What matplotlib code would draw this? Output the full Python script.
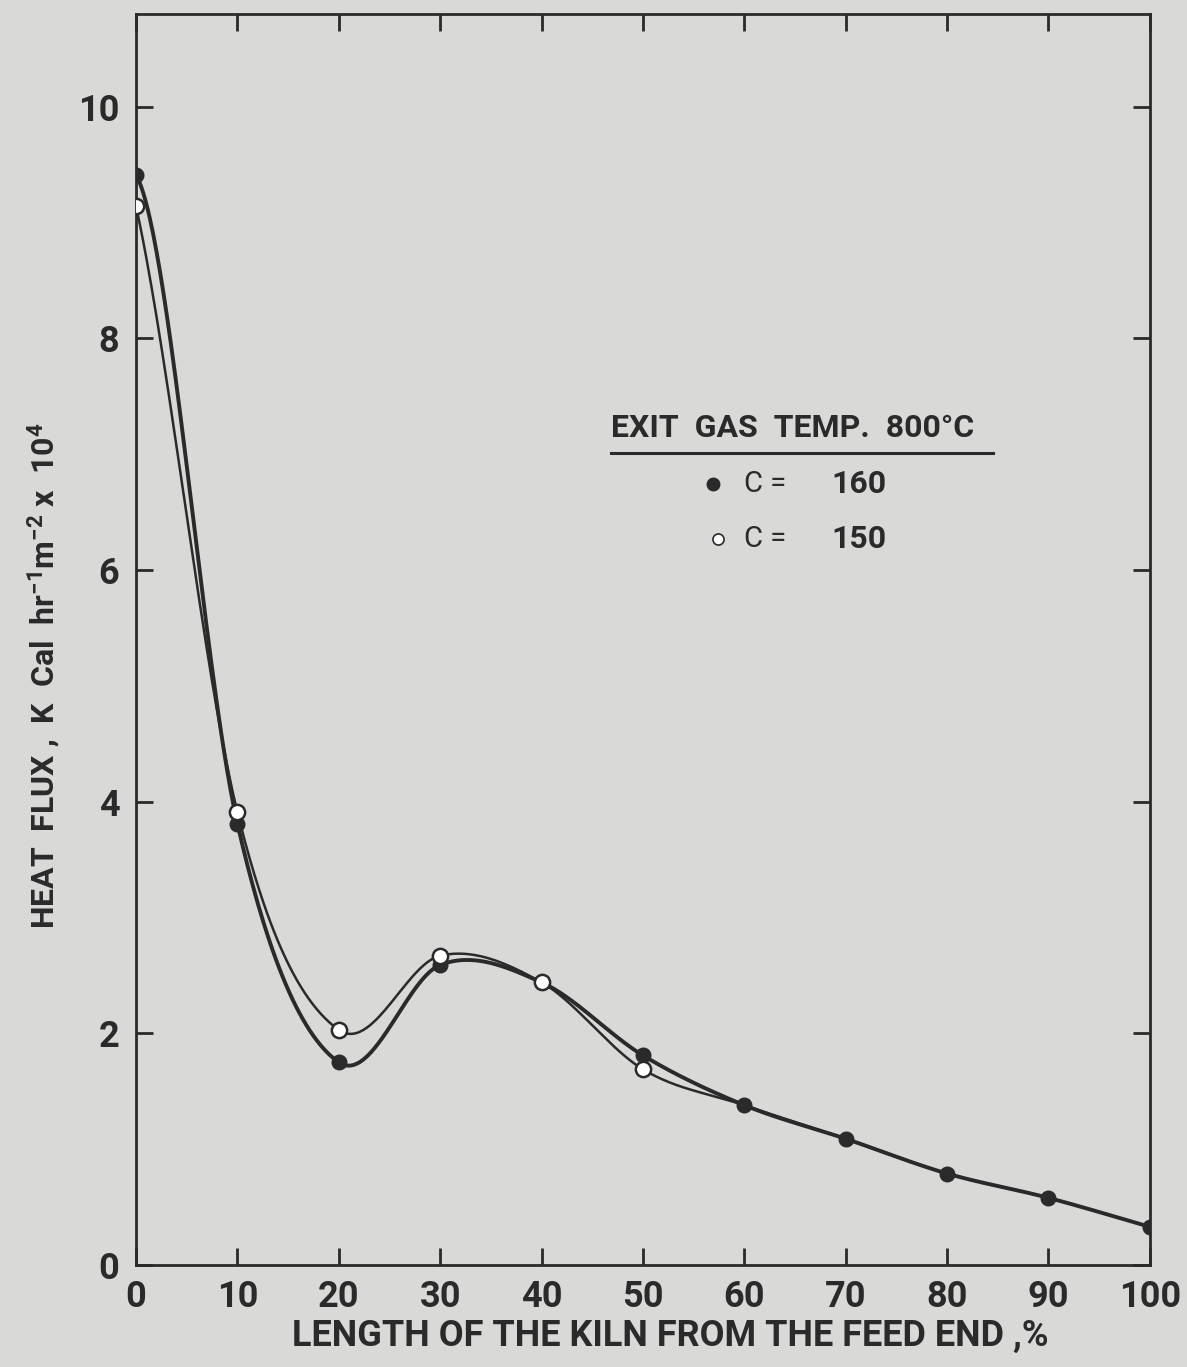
import matplotlib
matplotlib.use("Agg")
import matplotlib.pyplot as plt
import numpy as np

# data
length_pct = [0, 10, 20, 30, 40, 50, 60, 70, 80, 90, 100]
flux_c160 = [9.41, 3.81, 1.75, 2.59, 2.44, 1.81, 1.38, 1.09, 0.79, 0.58, 0.33]
flux_c150 = [9.14, 3.91, 2.03, 2.67, 2.44, 1.69, 1.38, 1.09, 0.79, 0.58, 0.33]
x_ticks = [0, 10, 20, 30, 40, 50, 60, 70, 80, 90, 100]
y_ticks = [0, 2, 4, 6, 8, 10]

BG = "#d9d9d7"
INK = "#2a2a2a"
FONT = ["Roboto", "DejaVu Sans"]


def smooth(xs, ys, d0, num=60):
    # hermite curve through the points, central-difference tangents (like a french curve)
    xs = np.asarray(xs, float)
    ys = np.asarray(ys, float)
    m = np.empty_like(ys)
    m[1:-1] = (ys[2:] - ys[:-2]) / (xs[2:] - xs[:-2])
    m[0] = d0
    m[-1] = (ys[-1] - ys[-2]) / (xs[-1] - xs[-2])
    out_x, out_y = [], []
    for i in range(len(xs) - 1):
        h = xs[i + 1] - xs[i]
        t = np.linspace(0, 1, num)
        h00 = 2 * t**3 - 3 * t**2 + 1
        h10 = t**3 - 2 * t**2 + t
        h01 = -2 * t**3 + 3 * t**2
        h11 = t**3 - t**2
        out_x.append(xs[i] + t * h)
        out_y.append(h00 * ys[i] + h10 * h * m[i] + h01 * ys[i + 1] + h11 * h * m[i + 1])
    return np.concatenate(out_x), np.concatenate(out_y)


fig = plt.figure(figsize=(11.87, 13.67), dpi=100, facecolor=BG)
ax = fig.add_axes([0.1146, 0.0746, 0.854, 0.9152], facecolor=BG)

xs, ys = smooth(length_pct, flux_c160, d0=-0.15)
ax.plot(xs, ys, color=INK, lw=2.8, zorder=3)
xs, ys = smooth(length_pct, flux_c150, d0=-0.4)
ax.plot(xs, ys, color=INK, lw=1.8, zorder=3)

ax.plot(length_pct, flux_c160, "o", ms=10.5, color=INK, zorder=4)
ax.plot(length_pct[:6], flux_c150[:6], "o", ms=11, mfc="white", mec=INK, mew=1.8, zorder=5)

ax.set_xlim(0, 100)
ax.set_ylim(0, 10.8)
ax.set_xticks(x_ticks)
ax.set_yticks(y_ticks)
ax.tick_params(direction="in", length=12, width=2, color=INK, top=True, right=True,
               labelsize=26, labelcolor=INK)
ax.tick_params(axis="y", pad=12)
ax.tick_params(axis="x", pad=10)
for lab in ax.get_xticklabels() + ax.get_yticklabels():
    lab.set_family(FONT)
    lab.set_weight("bold")
for sp in ax.spines.values():
    sp.set_linewidth(2)
    sp.set_color(INK)

ax.set_xlabel("LENGTH OF THE KILN FROM THE FEED END ,%", family=FONT, fontsize=26,
              weight="bold", color=INK)
ax.xaxis.set_label_coords(0.527, -0.042)
ax.set_ylabel("HEAT  FLUX ,  K  Cal  hr$\\mathregular{^{-1}}$m$\\mathregular{^{-2}}$ x  10$\\mathregular{^{4}}$",
              family=FONT, fontsize=23, weight="bold", color=INK)
ax.yaxis.set_label_coords(-0.072, 0.471)

# legend block
ax.text(0.469, 0.669, "EXIT  GAS  TEMP.  800°C", transform=ax.transAxes, family=FONT,
        fontsize=23, weight="bold", color=INK, va="center", ha="left")
ax.plot([0.469, 0.845], [0.649, 0.649], transform=ax.transAxes, color=INK, lw=2.2,
        clip_on=False)
ax.plot([0.569], [0.624], "o", ms=9, color=INK, transform=ax.transAxes)
ax.plot([0.574], [0.580], "o", ms=8, mfc="white", mec=INK, mew=1.2, transform=ax.transAxes)
for yy, val in [(0.624, "160"), (0.580, "150")]:
    ax.text(0.600, yy, "C =", transform=ax.transAxes, family=FONT, fontsize=21,
            color=INK, va="center", ha="left")
    ax.text(0.686, yy, val, transform=ax.transAxes, family=FONT, fontsize=23,
            weight="bold", color=INK, va="center", ha="left")

fig.savefig("out.png", dpi=100, facecolor=BG)
